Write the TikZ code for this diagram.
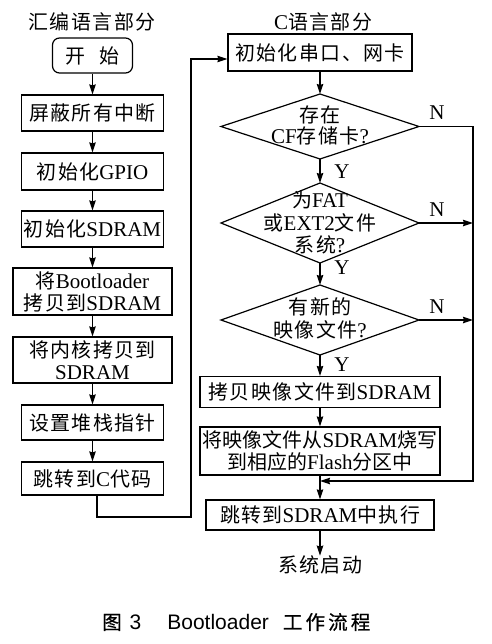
\documentclass[tikz,border=0pt]{standalone}
\usepackage{fontspec}
\setmainfont{Liberation Serif}
\newfontfamily\capsans{Liberation Sans}
\newfontfamily\cjkf[Scale=0.95,LetterSpace=7]{Noto Sans CJK SC}
\newfontfamily\cjkn[Scale=0.95,LetterSpace=0]{Noto Sans CJK SC}
\newfontfamily\cjkcap[LetterSpace=16,FakeBold=0.6]{Noto Sans CJK SC}
\newcommand\cj[1]{{\cjkf #1}}
\newcommand\cjt[1]{{\cjkn #1}}
\newcommand\nodefont{\fontsize{21}{22}\selectfont}
\newcommand\diafont{\fontsize{21}{21}\selectfont}
\usetikzlibrary{arrows.meta,shapes.geometric}
\tikzset{
  box/.style={draw,line width=1.2pt,minimum width=142pt,minimum height=36pt,inner sep=0pt,align=center,font=\nodefont},
  dia/.style={draw,diamond,line width=1.2pt,inner sep=0pt,outer sep=0pt},
  txt/.style={inner sep=0pt,align=center,font=\diafont},
  lab/.style={inner sep=0pt,font=\nodefont},
  flow/.style={line width=1.2pt,-{Stealth[length=10pt,width=6.5pt,inset=1pt]}},
}
\begin{document}
\begin{tikzpicture}[x=1pt,y=-1pt]
\path[fill=white,use as bounding box] (0,0) rectangle (491,644);

% titles
\node[lab] (t1) at (92,22) {\cj{汇编语言部分}};
\node[lab] (t2) at (323,22) {C\cj{语言部分}};

% left column
\node[box,rounded corners=7pt,minimum width=80pt,minimum height=35pt] (start) at (92.5,55.5) {\cj{开}\hspace{14pt}\cj{始}};
\node[box] (b1) at (92.5,113) {\cj{屏蔽所有中断}};
\node[box,minimum height=37pt] (b2) at (92.5,171.5) {\cj{初始化}GPIO};
\node[box] (b3) at (92.5,229) {\cj{初始化}SDRAM};
\node[box,minimum width=159pt,minimum height=47pt] (b4) at (92.5,291.5) {\cj{将}Bootloader\\\cj{拷贝到}SDRAM};
\node[box,minimum width=159pt,minimum height=46pt] (b5) at (92.5,360) {\cj{将内核拷贝到}\\SDRAM};
\node[box,minimum height=35pt] (b6) at (92.5,422.5) {\cj{设置堆栈指针}};
\node[box,minimum height=33pt] (b7) at (92.5,478.5) {\cj{跳转到}C\cj{代码}};

\draw[flow] (start) -- (b1);
\draw[flow] (b1) -- (b2);
\draw[flow] (b2) -- (b3);
\draw[flow] (b3) -- (b4);
\draw[flow] (b4) -- (b5);
\draw[flow] (b5) -- (b6);
\draw[flow] (b6) -- (b7);

% right column
\node[box,minimum width=184pt,minimum height=37pt] (c1) at (320,52.5) {\cj{初始化串口、网卡}};
\node[dia,minimum width=198pt,minimum height=65pt] (d1) at (320,126.5) {};
\node[txt] (dt1) at (320,125) {\cj{存在}\\CF\cj{存储卡}?};
\node[dia,minimum width=198pt,minimum height=80pt] (d2) at (320,223) {};
\node[txt,font=\fontsize{21}{22.5}\selectfont] (dt2) at (320,222.5) {\cj{为}FAT\\\cj{或}EXT2\cj{文件}\\\cj{系统}?};
\node[dia,minimum width=198pt,minimum height=70pt] (d3) at (320,320) {};
\node[txt,font=\fontsize{21}{23}\selectfont] (dt3) at (320,318.5) {\cj{有新的}\\\cj{映像文件}?};
\node[box,minimum width=240pt,minimum height=31pt] (c2) at (320,392) {\cj{拷贝映像文件到}SDRAM};
\node[box,minimum width=240pt,minimum height=48pt] (c3) at (320,451) {\cjt{将映像文件从}SDRAM\cjt{烧写}\\\cjt{到相应的}Flash\cjt{分区中}};
\node[box,minimum width=228pt,minimum height=30pt] (c4) at (320,515) {\cj{跳转到}SDRAM\cj{中执行}};
\node[lab] (endt) at (320,565) {\cj{系统启动}};

\coordinate (rN) at (473,481);
\coordinate (j) at (320,481);

\draw[flow] (c1) -- (d1);
\draw[flow] (d1) -- (d2);
\draw[flow] (d2) -- (d3);
\draw[flow] (d3) -- (c2);
\draw[flow] (c2) -- (c3);
\draw[flow] (c3) -- (c4);
\draw[flow] (c4) -- (endt);

\draw[flow] (d1.east) -| (rN) -- (j);
\draw[flow] (d2.east) -- (d2.east -| rN);
\draw[flow] (d3.east) -- (d3.east -| rN);

% Y / N labels
\node[lab] (y1) at (342,172) {Y};
\node[lab] (y2) at (342,268) {Y};
\node[lab] (y3) at (342,365) {Y};
\node[lab] (n1) at (437,113) {N};
\node[lab] (n2) at (437,210) {N};
\node[lab] (n3) at (437,307) {N};

% link from assembly part to C part
\coordinate (lb) at (97,517);
\coordinate (lt) at (191,59);
\draw[flow] ([xshift=4.5pt]b7.south) -- (lb) -- (lb -| lt) -- (lt) -- (lt -| c1.west);

% caption
\node[inner sep=0pt,anchor=west] (cap) at (102,622) {\fontsize{19.5}{22}\selectfont{\cjkcap 图}\hspace{8pt}{\capsans\fontsize{21}{22}\selectfont 3}\hspace{26pt}{\capsans\fontsize{21}{22}\selectfont Bootloader}\hspace{14pt}{\cjkcap 工作流程}};
\end{tikzpicture}
\end{document}
